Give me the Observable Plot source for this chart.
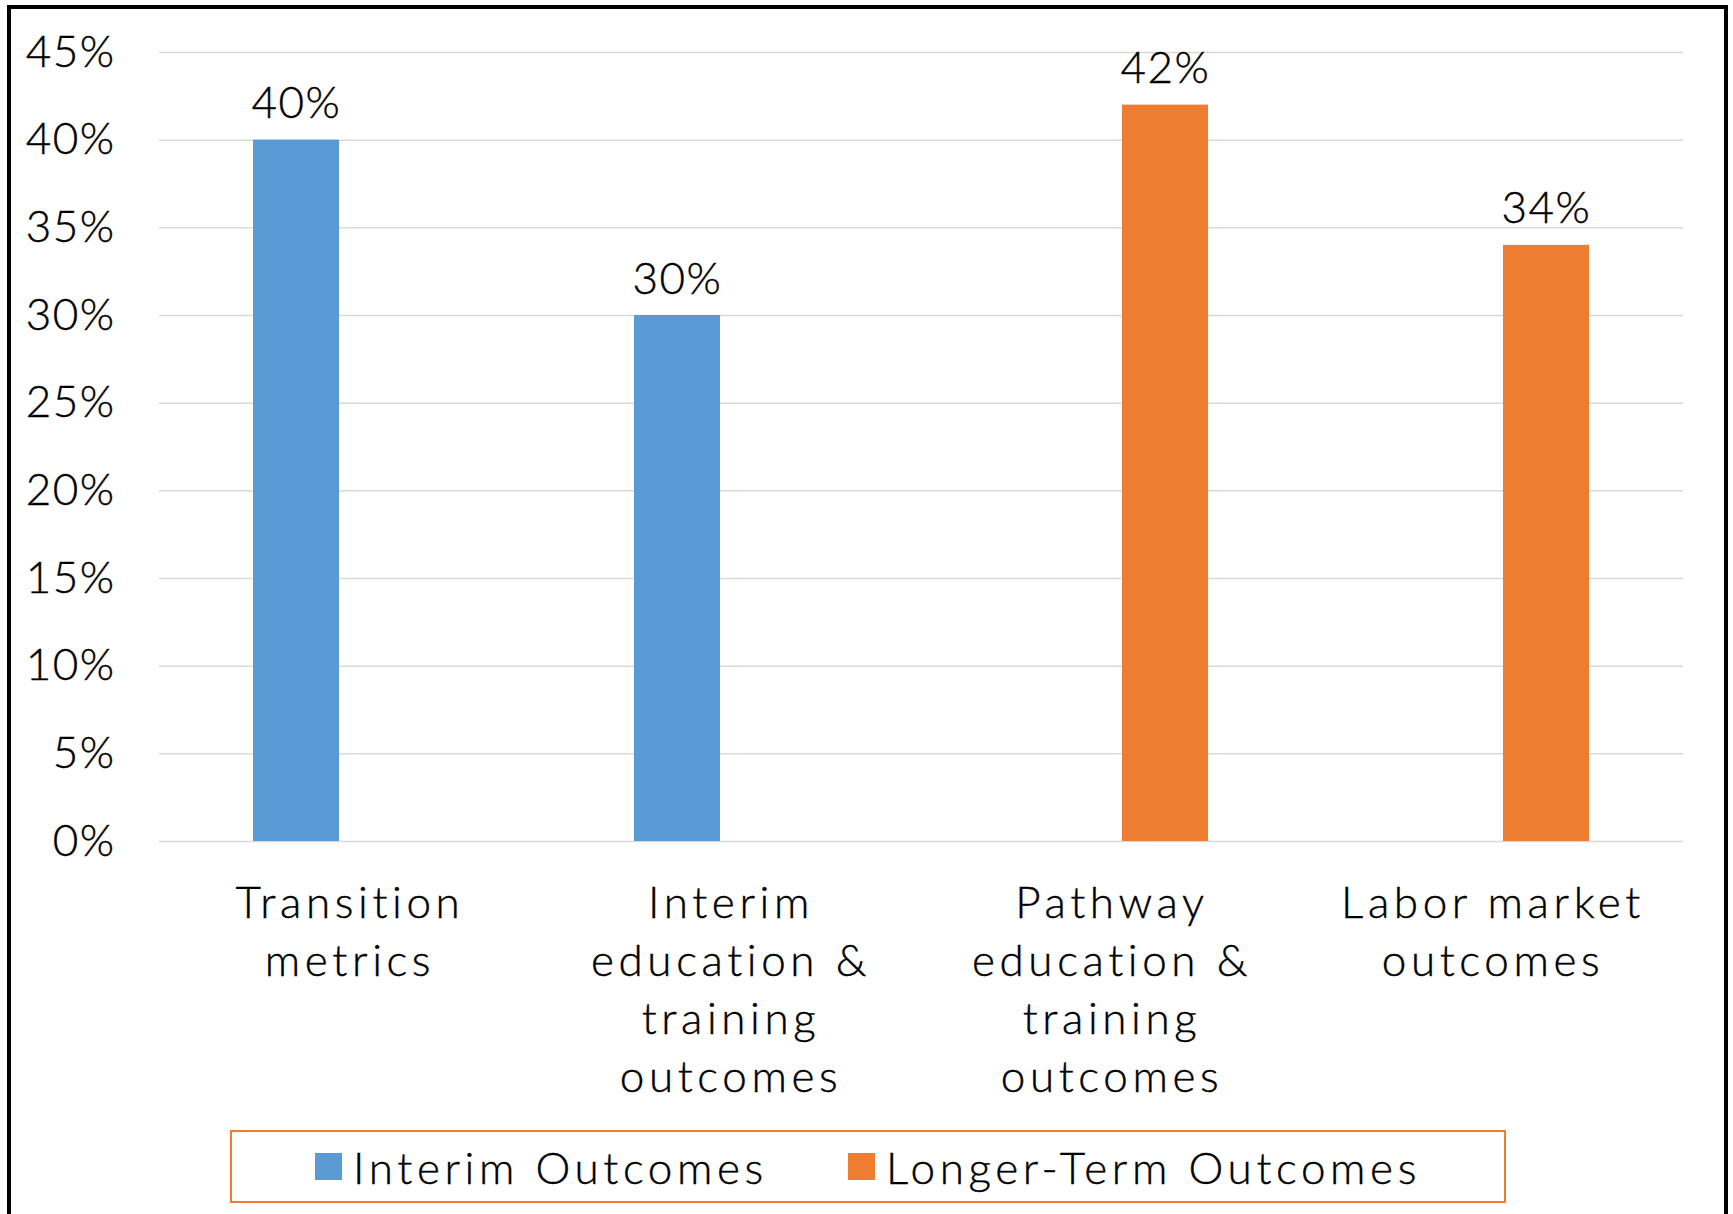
<!DOCTYPE html>
<html>
<head>
<meta charset="utf-8">
<script src="https://cdn.jsdelivr.net/npm/d3@7"></script>
<script src="https://cdn.jsdelivr.net/npm/@observablehq/plot@0.6"></script>
<style>
  html, body { margin: 0; padding: 0; background: #fff; width: 1733px; height: 1214px; overflow: hidden; position: relative; }
  #frame { position: absolute; left: 7px; top: 5px; width: 1713px; height: 1300px; border: 4px solid #000; border-bottom: none; }
  #chart { position: absolute; left: 11px; top: 9px; }
  #legend { position: absolute; left: 230px; top: 1130px; width: 1272px; height: 69px; border: 2px solid #ed7d31;
            display: flex; align-items: center; justify-content: center; font-family: Lato, "DejaVu Sans", sans-serif;
            font-weight: 300; font-size: 44px; color: #000; letter-spacing: 4.6px; -webkit-text-stroke: 0.4px #000; }
  .item { display: flex; align-items: center; }
  .sw { width: 27px; height: 27px; margin-right: 11px; }
</style>
</head>
<body>
<div id="frame"></div>
<div id="chart"></div>
<div id="legend"></div>
<script>
const categories = ["Transition metrics", "Interim education & training outcomes", "Pathway education & training outcomes", "Labor market outcomes"];
const tickLabels = ["Transition\nmetrics", "Interim\neducation &\ntraining\noutcomes", "Pathway\neducation &\ntraining\noutcomes", "Labor market\noutcomes"];
const seriesNames = ["Interim Outcomes", "Longer-Term Outcomes"];
const seriesOfCategory = ["Interim Outcomes", "Interim Outcomes", "Longer-Term Outcomes", "Longer-Term Outcomes"];
const values = [0.40, 0.30, 0.42, 0.34];
const seriesColors = ["#5b9bd5", "#ed7d31"];
const yTicks = [0, 0.05, 0.10, 0.15, 0.20, 0.25, 0.30, 0.35, 0.40, 0.45];

const data = categories.map((c, i) => ({category: c, series: seriesOfCategory[i], value: values[i]}));
const pct = d3.format(".0%");
const font = 'Lato, "DejaVu Sans", sans-serif';

const chart = Plot.plot({
  width: 1713,
  height: 1110,
  marginLeft: 148,
  marginRight: 41,
  marginTop: 43,
  marginBottom: 278,
  fx: {domain: categories, padding: 0, label: null},
  x: {domain: seriesNames, paddingInner: 0.194, paddingOuter: 0.861, axis: null},
  y: {domain: [0, 0.45], axis: null},
  color: {domain: seriesNames, range: seriesColors},
  style: {fontFamily: font, fontSize: "44px", fontWeight: 300, color: "#000", background: "transparent", overflow: "visible"},
  marks: [
    Plot.gridY(yTicks, {stroke: "#d9d9d9", strokeOpacity: 1, strokeWidth: 1.5}),
    Plot.axisY({ticks: yTicks, tickFormat: pct, tickSize: 0, tickPadding: 44, fontSize: 44, label: null}),
    Plot.axisFx({anchor: "bottom", tickSize: 0, tickPadding: 35, fontSize: 44, lineHeight: 1.32, label: null,
                 tickFormat: d => tickLabels[categories.indexOf(d)]}),
    Plot.barY(data, {fx: "category", x: "series", y: "value", fill: "series"}),
    Plot.text(data, {fx: "category", x: "series", y: "value", text: d => pct(d.value), lineAnchor: "bottom", dy: -22, fontSize: 44, fill: "#000"})
  ]
});
d3.select(chart).selectAll("text").style("letter-spacing", "1.5px").style("stroke", "#000").style("stroke-width", "0.4px");
d3.select(chart).selectAll("[aria-label='fx-axis tick label'] text").style("letter-spacing", "4.6px");
document.getElementById("chart").appendChild(chart);

const legend = d3.select("#legend");
seriesNames.forEach((s, i) => {
  const item = legend.append("div").attr("class", "item").style("margin-left", i ? "80px" : "0");
  item.append("div").attr("class", "sw").style("background", seriesColors[i]);
  item.append("span").text(s);
});
</script>
</body>
</html>
